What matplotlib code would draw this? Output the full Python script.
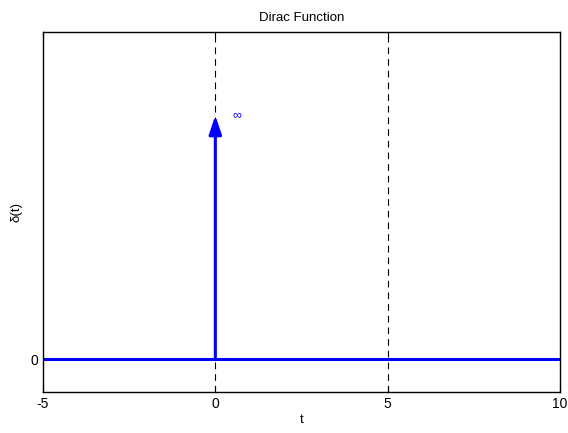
import matplotlib
matplotlib.use("Agg")
import matplotlib.pyplot as plt

plt.rcParams['font.family'] = ['Liberation Sans', 'DejaVu Sans']
plt.rcParams['axes.unicode_minus'] = False

t_base = [-5, 10]
y_base = [0, 0]
impulse_t = 0
impulse_h = 0.745
guide_t = [0, 5]
x_ticks = [-5, 0, 5, 10]
y_ticks = [0]

fig = plt.figure(figsize=(5.68, 4.33), dpi=100)
ax = fig.add_axes([43/568, 1-392/433, (560-43)/568, (392-32)/433])

for g in guide_t:
    ax.axvline(g, color='black', lw=0.8, dashes=(6, 4.5), zorder=1)

ax.plot(t_base, y_base, color='blue', lw=2.2, zorder=2)
ax.annotate('', xy=(impulse_t, impulse_h), xytext=(impulse_t, 0),
            arrowprops=dict(arrowstyle='-|>,head_length=0.8,head_width=0.27',
                            color='blue', lw=2.2,
                            mutation_scale=14, shrinkA=0, shrinkB=0),
            zorder=3)
ax.text(impulse_t + 0.5, impulse_h, '∞', color='blue', fontsize=9,
        ha='left', va='center')

ax.set_xlim(-5, 10)
ax.set_ylim(-0.1, 1)
ax.set_xticks(x_ticks)
ax.set_yticks(y_ticks)
ax.tick_params(direction='in', top=True, right=True, labelsize=10, length=4)
for s in ax.spines.values():
    s.set_linewidth(1)

ax.set_title('Dirac Function', fontsize=9.5, pad=8)
ax.set_xlabel('t', fontsize=9.5, labelpad=2)
ax.set_ylabel('δ(t)', fontsize=9.5, labelpad=6)

fig.savefig('out.png', dpi=100, facecolor='white')
